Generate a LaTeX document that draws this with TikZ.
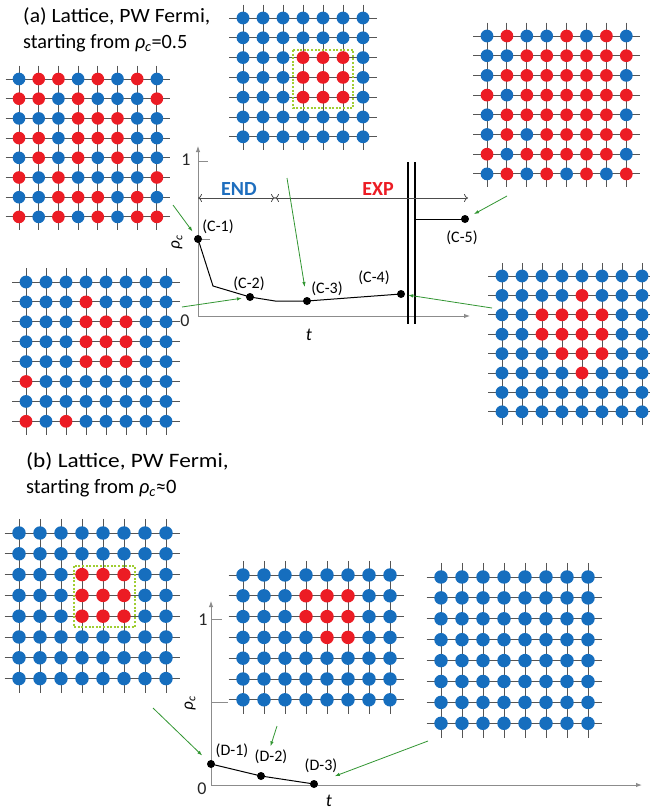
\documentclass[tikz,border=0pt]{standalone}
\usepackage{fontspec}
\setmainfont{Carlito}
\usetikzlibrary{arrows.meta}
\definecolor{colB}{RGB}{22,110,190}
\definecolor{colR}{RGB}{236,28,36}
\definecolor{gridc}{RGB}{85,85,85}
\definecolor{axisc}{RGB}{140,140,140}
\definecolor{garr}{RGB}{50,150,50}
\definecolor{dotbox}{RGB}{160,205,50}
\definecolor{endblue}{RGB}{30,110,190}
\definecolor{expred}{RGB}{236,28,36}

% x0, y0, dx, dy, ncols, nrows, rows
\newcommand{\drawlattice}[7]{%
  \pgfmathsetmacro\lxa{#1-0.68*#3}%
  \pgfmathsetmacro\lxb{#1+(#5-1)*#3+0.68*#3}%
  \pgfmathsetmacro\lya{#2-0.68*#4}%
  \pgfmathsetmacro\lyb{#2+(#6-1)*#4+0.68*#4}%
  \pgfmathsetmacro\lrad{0.32*#3}%
  \foreach \jj in {1,...,#6} {\draw[gridline] (\lxa,{#2+(\jj-1)*#4}) -- (\lxb,{#2+(\jj-1)*#4});}%
  \foreach \ii in {1,...,#5} {\draw[gridline] ({#1+(\ii-1)*#3},\lya) -- ({#1+(\ii-1)*#3},\lyb);}%
  \foreach \rw [count=\jj] in {#7} {%
    \foreach \cl [count=\ii] in \rw {%
      \fill[fill=col\cl] ({#1+(\ii-1)*#3},{#2+(\jj-1)*#4}) circle[radius=\lrad pt];%
    }%
  }%
}

\begin{document}
\begin{tikzpicture}[x=1pt,y=-1pt,
  gridline/.style={draw=gridc, line width=1pt},
  axis/.style={draw=axisc, line width=1pt, -{Latex[length=6pt,width=4.5pt]}},
  tick/.style={draw=axisc, line width=1pt},
  dimarrow/.style={draw=gray!60!black, line width=0.8pt, {To[length=4pt,width=8pt]}-{To[length=4pt,width=8pt]}},
  garrow/.style={draw=garr, line width=0.8pt, -{Latex[length=5pt,width=3.5pt]}},
  dbox/.style={draw=dotbox, line width=2.2pt, dash pattern=on 2pt off 1.6pt},
  pt/.style={circle, fill=black, inner sep=0pt, minimum size=8pt},
  curve/.style={draw=black, line width=1pt},
  lbl/.style={font=\fontsize{16}{18}\selectfont, inner sep=0pt},
  titlea/.style={font=\fontsize{20.3}{24}\selectfont, anchor=base west, inner sep=0pt},
  titleb/.style={font=\fontsize{20.5}{24}\selectfont, anchor=base west, inner sep=0pt},
  keyw/.style={font=\fontsize{20}{22}\selectfont\bfseries, inner sep=0pt},
  num/.style={font=\fontsize{18}{20}\selectfont, text=black!85, inner sep=0pt},
  bar/.style={draw=black, line width=1.1pt}
]
\useasboundingbox (0,0) rectangle (649,811);
\fill[white] (0,0) rectangle (649,811);

% ---------------- titles
\node[titlea] (ta1) at (23,22) {\scalebox{1.065}[1]{(a) Lattice, PW Fermi,}};
\node[titlea] (ta2) at (23,48) {starting from \textit{ρ}\textsubscript{\textit{c}}=0.5};
\node[titleb] (tb1) at (26,467) {\scalebox{1.135}[1]{(b) Lattice, PW Fermi,}};
\node[titleb] (tb2) at (26,493) {starting from \textit{ρ}\textsubscript{\textit{c}}≈0};

% ---------------- lattices (a)
\drawlattice{19}{79}{19.7}{19.7}{8}{8}{%
 {B,R,R,B,R,B,R,B},{R,R,B,R,B,B,B,R},{B,B,B,R,R,R,B,B},{R,R,B,R,R,R,B,B},
 {B,R,B,R,B,R,B,B},{R,B,R,B,B,B,B,R},{B,B,R,R,R,B,R,B},{R,B,R,B,R,B,R,R}}
\drawlattice{243}{18}{20}{19.8}{7}{7}{%
 {B,B,B,B,B,B,B},{B,B,B,B,B,B,B},{B,B,B,R,R,R,B},{B,B,B,R,R,R,B},
 {B,B,B,R,R,R,B},{B,B,B,B,B,B,B},{B,B,B,B,B,B,B}}
\draw[dbox] (293,50) rectangle (353,108);
\drawlattice{487}{36}{19.9}{19.7}{8}{8}{%
 {B,R,B,B,R,B,R,B},{B,B,R,R,R,R,R,R},{B,R,R,R,R,R,R,B},{R,B,R,R,R,R,R,R},
 {B,R,R,R,R,R,R,B},{B,R,B,R,R,R,R,R},{R,B,R,R,R,R,R,B},{B,R,B,R,B,R,B,R}}
\drawlattice{26}{282}{20}{19.9}{8}{8}{%
 {B,B,B,B,B,B,B,B},{B,B,B,R,B,B,B,B},{B,B,B,R,R,R,B,B},{B,B,B,R,R,R,B,B},
 {B,B,B,R,R,R,B,B},{R,B,B,B,B,B,B,B},{B,B,B,B,B,B,B,B},{R,B,R,B,B,B,B,B}}
\drawlattice{502}{276}{20}{19.4}{8}{8}{%
 {B,B,B,B,B,B,B,B},{B,B,B,B,R,B,B,B},{B,B,R,R,R,R,B,B},{B,B,R,R,R,R,B,B},
 {B,B,B,R,R,R,B,B},{B,B,B,B,R,B,B,B},{B,B,B,B,B,B,B,B},{B,B,B,B,B,B,B,B}}

% ---------------- lattices (b)
\drawlattice{19}{533}{21}{20.8}{8}{8}{%
 {B,B,B,B,B,B,B,B},{B,B,B,B,B,B,B,B},{B,B,B,R,R,R,B,B},{B,B,B,R,R,R,B,B},
 {B,B,B,R,R,R,B,B},{B,B,B,B,B,B,B,B},{B,B,B,B,B,B,B,B},{B,B,B,B,B,B,B,B}}
\draw[dbox] (74,566) rectangle (135,627);
\drawlattice{243}{575}{21}{20.8}{8}{7}{%
 {B,B,B,B,B,B,B,B},{B,B,B,R,R,R,B,B},{B,B,B,R,R,R,B,B},{B,B,B,B,R,R,B,B},
 {B,B,B,B,B,B,B,B},{B,B,B,B,B,B,B,B},{B,B,B,B,B,B,B,B}}
\drawlattice{441}{577}{21}{20.9}{8}{8}{%
 {B,B,B,B,B,B,B,B},{B,B,B,B,B,B,B,B},{B,B,B,B,B,B,B,B},{B,B,B,B,B,B,B,B},
 {B,B,B,B,B,B,B,B},{B,B,B,B,B,B,B,B},{B,B,B,B,B,B,B,B},{B,B,B,B,B,B,B,B}}

% ---------------- graph (a)
\coordinate (aO) at (198,316);
\coordinate (aY) at (198,146);
\coordinate (aX) at (470,316);
\draw[axis] (aO) -- (aY);
\draw[axis] (aO) -- (aX);
\coordinate (at1) at (198,161);
\coordinate (at1e) at (208,161);
\draw[tick] (at1) -- (at1e);
\coordinate (at2) at (198,239);
\coordinate (at2e) at (210,239);
\draw[tick] (at2) -- (at2e);
\node[num] (aone) at (186,160) {1};
\node[num] (azero) at (185,321) {0};
\node[font=\fontsize{17}{20}\selectfont, rotate=90, inner sep=0pt] (arho) at (177,242) {\textit{ρ}\textsubscript{\textit{c}}};
\node[font=\fontsize{18}{20}\selectfont\itshape, inner sep=0pt] (at) at (309,335) {t};

% break bars
\coordinate (b1t) at (408,162); \coordinate (b1b) at (408,324);
\coordinate (b2t) at (415,162); \coordinate (b2b) at (415,324);
\draw[bar] (b1t) -- (b1b);
\draw[bar] (b2t) -- (b2b);

% END / EXP
\coordinate (e0) at (198,198);
\coordinate (e1) at (275,198);
\coordinate (e2) at (468,198);
\draw[dimarrow] (e0) -- (e1);
\draw[dimarrow] (e1) -- (e2);
\node[keyw, text=endblue] (kend) at (239,189) {END};
\node[keyw, text=expred] (kexp) at (378,189) {EXP};

% curve
\node[pt] (C1) at (198,239) {};
\node[pt] (C2) at (250,297) {};
\node[pt] (C3) at (307,301) {};
\node[pt] (C4) at (401,294) {};
\node[pt] (C5) at (465,219) {};
\coordinate (k1) at (213,286);
\coordinate (k2) at (275,301);
\coordinate (k5) at (415,219);
\draw[curve] (C1.center) -- (k1) -- (C2.center) -- (k2) -- (C3.center) -- (C4.center);
\draw[curve] (k5) -- (C5.center);
\node[lbl] (lC1) at (218,227) {(C-1)};
\node[lbl] (lC2) at (249,284) {(C-2)};
\node[lbl] (lC3) at (327,289) {(C-3)};
\node[lbl] (lC4) at (374,278) {(C-4)};
\node[lbl] (lC5) at (462,238) {(C-5)};

% green arrows (a)
\coordinate (g1) at (173,205);
\coordinate (g2) at (287,178);
\coordinate (g3) at (182,307);
\coordinate (g4) at (492,308);
\coordinate (g5) at (507,196);
\draw[garrow, shorten >=5pt] (g1) -- (C1);
\draw[garrow, shorten >=10pt] (g2) -- (C3);
\draw[garrow, shorten >=4pt] (g3) -- (C2);
\draw[garrow, shorten >=3pt] (g4) -- (C4);
\draw[garrow, shorten >=6pt] (g5) -- (C5);

% ---------------- graph (b)
\coordinate (bO) at (211,785);
\coordinate (bY) at (211,601);
\coordinate (bX) at (642,785);
\draw[axis] (bO) -- (bY);
\draw[axis] (bO) -- (bX);
\coordinate (bt1) at (211,619);
\coordinate (bt1e) at (222,619);
\draw[tick] (bt1) -- (bt1e);
\coordinate (bt2) at (211,702);
\coordinate (bt2e) at (228,702);
\draw[tick] (bt2) -- (bt2e);
\node[num] (bone) at (203,620) {1};
\node[num] (bzero) at (202,789) {0};
\node[font=\fontsize{17}{20}\selectfont, rotate=90, inner sep=0pt] (brho) at (190,703) {\textit{ρ}\textsubscript{\textit{c}}};
\node[font=\fontsize{18}{20}\selectfont\itshape, inner sep=0pt] (bt) at (329,801) {t};

\node[pt] (D1) at (211,764) {};
\node[pt] (D2) at (261,776) {};
\node[pt] (D3) at (314,784) {};
\draw[curve] (D1.center) -- (D2.center) -- (D3.center);
\node[lbl] (lD1) at (232,751) {(D-1)};
\node[lbl] (lD2) at (271,757) {(D-2)};
\node[lbl] (lD3) at (321,766) {(D-3)};

\coordinate (h1) at (153,708);
\coordinate (h2) at (277,726);
\coordinate (h3) at (428,741);
\draw[garrow, shorten >=8pt] (h1) -- (D1);
\draw[garrow, shorten >=27pt] (h2) -- (D2);
\draw[garrow, shorten >=18pt] (h3) -- (D3);
\end{tikzpicture}
\end{document}
